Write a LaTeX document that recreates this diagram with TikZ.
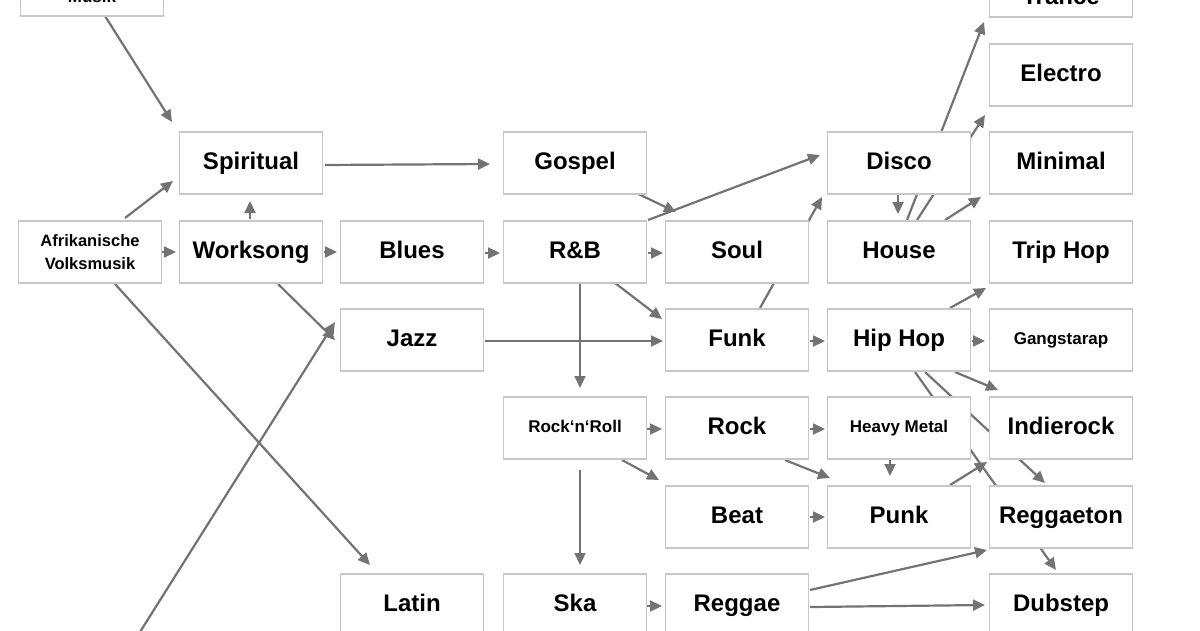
\documentclass[tikz,border=0pt]{standalone}
\usepackage{fontspec}
\setmainfont{Liberation Sans}
\usetikzlibrary{arrows.meta}
\begin{document}
\begin{tikzpicture}[x=1pt,y=-1pt,
 box/.style={draw=black!22,line width=1.2pt,fill=white,minimum width=143pt,minimum height=62pt,inner sep=0pt,font=\bfseries\fontsize{24}{26}\selectfont,align=center},
 one/.style={text height=17pt,text depth=5pt},
 sm/.style={font=\bfseries\fontsize{17}{22}\selectfont,text height=12pt,text depth=4pt},
 ar/.style={draw=black!55,line width=2.2pt,-{Triangle[length=12pt,width=11pt]}}]
\useasboundingbox (0,0) rectangle (1200,630);
\def\cA{90}\def\cB{251}\def\cC{412}\def\cD{575}\def\cE{737}\def\cF{899}\def\cG{1061}
\coordinate (src) at (140,632);
% arrows first
\draw[ar] (105,16) -- (172,122);
\draw[ar] (125,218) -- (173,181);
\draw[ar] (250,219) -- (250,201);
\draw[ar] (161,252) -- (176,252);
\draw[ar] (324,252) -- (337,252);
\draw[ar] (278,284) -- (335,340);
\draw[ar] (115,284) -- (370,565);
\draw[ar] (src) -- (335,322);
\draw[ar] (325,165) -- (490,164);
\draw[ar] (485,253) -- (500,253);
\draw[ar] (630,190) -- (676,212);
\draw[ar] (648,253) -- (663,253);
\draw[ar] (648,220) -- (820,155);
\draw[ar] (615,283) -- (662,319);
\draw[ar] (580,283) -- (580,388);
\draw[ar] (485,341) -- (663,341);
\draw[ar] (760,308) -- (822,197);
\draw[ar] (810,341) -- (825,341);
\draw[ar] (898,195) -- (898,214);
\draw[ar] (907,220) -- (984,22);
\draw[ar] (917,220) -- (985,115);
\draw[ar] (945,220) -- (981,197);
\draw[ar] (950,308) -- (986,288);
\draw[ar] (972,341) -- (985,341);
\draw[ar] (955,372) -- (998,390);
\draw[ar] (925,372) -- (1045,483);
\draw[ar] (915,372) -- (1056,570);
\draw[ar] (647,429) -- (662,429);
\draw[ar] (622,460) -- (659,480);
\draw[ar] (580,470) -- (580,565);
\draw[ar] (810,429) -- (825,429);
\draw[ar] (785,460) -- (830,478);
\draw[ar] (890,460) -- (890,476);
\draw[ar] (950,485) -- (987,462);
\draw[ar] (810,517) -- (825,517);
\draw[ar] (647,606) -- (662,606);
\draw[ar] (810,590) -- (987,550);
\draw[ar] (810,607) -- (985,605);
% boxes
\node[box,font=\bfseries\fontsize{17}{22}\selectfont] (musik) at (92,-15) {\\[14pt]Musik};
\node[box] (trance) at (\cG,-14) {\\[12pt]Trance};
\node[box,one] (electro) at (\cG,75) {Electro};
\node[box,one] (spiritual) at (\cB,163) {Spiritual};
\node[box,one] (gospel) at (\cD,163) {Gospel};
\node[box,one] (disco) at (\cF,163) {Disco};
\node[box,one] (minimal) at (\cG,163) {Minimal};
\node[box,font=\bfseries\fontsize{16.5}{23}\selectfont] (afrika) at (\cA,252) {Afrikanische\\Volksmusik};
\node[box,one] (worksong) at (\cB,252) {Worksong};
\node[box,one] (blues) at (\cC,252) {Blues};
\node[box,one] (rb) at (\cD,252) {R\&B};
\node[box,one] (soul) at (\cE,252) {Soul};
\node[box,one] (house) at (\cF,252) {House};
\node[box,one] (triphop) at (\cG,252) {Trip Hop};
\node[box,one] (jazz) at (\cC,340) {Jazz};
\node[box,one] (funk) at (\cE,340) {Funk};
\node[box,one] (hiphop) at (\cF,340) {Hip Hop};
\node[box,sm] (gangsta) at (\cG,340) {Gangstarap};
\node[box,sm] (rnr) at (\cD,428) {Rock‘n‘Roll};
\node[box,one] (rock) at (\cE,428) {Rock};
\node[box,sm] (metal) at (\cF,428) {Heavy Metal};
\node[box,one] (indie) at (\cG,428) {Indierock};
\node[box,one] (beat) at (\cE,517) {Beat};
\node[box,one] (punk) at (\cF,517) {Punk};
\node[box,one] (reggaeton) at (\cG,517) {Reggaeton};
\node[box,one] (latin) at (\cC,605) {Latin};
\node[box,one] (ska) at (\cD,605) {Ska};
\node[box,one] (reggae) at (\cE,605) {Reggae};
\node[box,one] (dubstep) at (\cG,605) {Dubstep};
\end{tikzpicture}
\end{document}
